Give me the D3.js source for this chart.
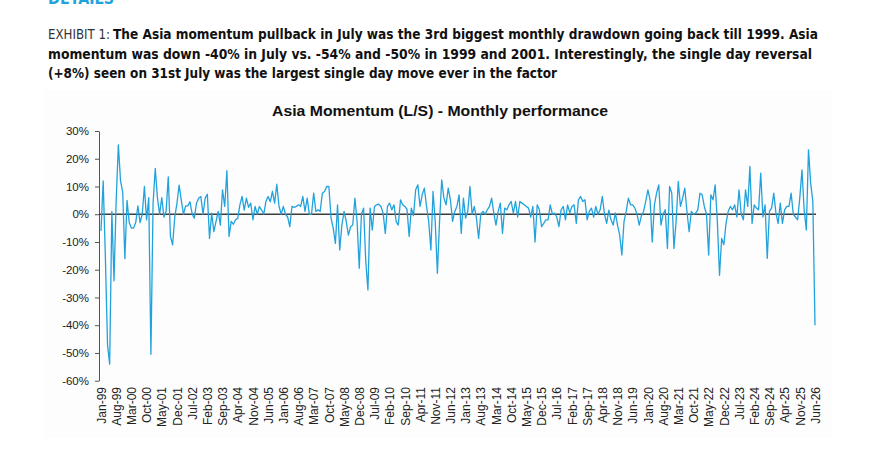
<!DOCTYPE html>
<html>
<head>
<meta charset="utf-8">
<script src="https://cdn.jsdelivr.net/npm/d3@7/dist/d3.min.js"></script>
<style>
  html, body { margin: 0; padding: 0; background: #ffffff; }
  svg { display: block; }
</style>
</head>
<body>
<svg id="chart" width="879" height="449"></svg>
<script>
// ---------- DATA ----------
const headerLabel = "DETAILS";
const exhibitLabel = "EXHIBIT 1:";
const captionLines = [
  "The Asia momentum pullback in July was the 3rd biggest monthly drawdown going back till 1999. Asia",
  "momentum was down -40% in July vs. -54% and -50% in 1999 and 2001. Interestingly, the single day reversal",
  "(+8%) seen on 31st July was the largest single day move ever in the factor"
];
const chartTitle = "Asia Momentum (L/S) - Monthly performance";

const yTicks = [30, 20, 10, 0, -10, -20, -30, -40, -50, -60];

const xTickLabels = ["Jan-99","Aug-99","Mar-00","Oct-00","May-01","Dec-01","Jul-02","Feb-03","Sep-03","Apr-04",
  "Nov-04","Jun-05","Jan-06","Aug-06","Mar-07","Oct-07","May-08","Dec-08","Jul-09","Feb-10","Sep-10","Apr-11",
  "Nov-11","Jun-12","Jan-13","Aug-13","Mar-14","Oct-14","May-15","Dec-15","Jul-16","Feb-17","Sep-17","Apr-18",
  "Nov-18","Jun-19","Jan-20","Aug-20","Mar-21","Oct-21","May-22","Dec-22","Jul-23","Feb-24","Sep-24","Apr-25",
  "Nov-25","Jun-26"];

// monthly categories Jan-99 .. Jun-26
const fmtMonth = d3.timeFormat("%b-%y");
const categories = d3.timeMonth.range(new Date(1999, 0, 1), new Date(2026, 6, 1)).map(fmtMonth);

// monthly performance (%)
const momentum = [
  -6, 12, -15, -47, -54, 1, -24, 5, 25, 12,
  8, -16, 5, -3, -5, -5, -3, 3, -3, 0,
  10, -2, 6, -50.5, 4, 16.5, 6, 0, 6, -1,
  1, 13.5, -8, -11, -1, 4, 10.5, 5, 0, 3,
  3, 4.5, 0, -1.4, 4, 5.8, 6.4, 0, 5.8, 7.2,
  -8.7, 0.4, -6.3, -2.6, 1, -3.9, 8.8, 2.8, 15.7, -8,
  -2.6, -3.6, -2, -1.5, 3.4, 6.4, 1.5, 5.8, 2.5, 4,
  -2, 2.8, 0, 2.8, 1.5, 0, 4.6, 6.4, 4.5, 8.2,
  4, 10.8, 3, 0, 2.8, 0, -1, -4.5, 2.8, 2.5,
  2.8, 3.4, 2.8, 6.4, 1, 5.8, 0, 0, 7.6, 1,
  1.6, 1, 7.6, 8.2, 10, 10, -1.4, -5, -10.5, 3.4,
  -12.9, -3.9, 1, -2.6, -7.5, -4.5, -3.9, 5.8, -2.6, -19.5,
  0, 2.2, -17, -27.3, 2.2, -5.7, 2.8, 3.4, 3.6, 2.8,
  0.4, -6.9, 2.8, 4, 1.6, 3.4, -2.6, -3.9, 5.2, 3.4,
  2.8, 1.8, -8, 2.2, -0.5, 8.8, 10.6, 2.8, 7, 9.4,
  2.8, -2.6, -12.9, 8.2, -2.6, -21.3, -2.6, 12.4, 5.8, 3.4,
  9.4, 5.2, -2.6, 1, 2.8, 7, -6.9, 5.8, -1.4, 1,
  10, 0, 2.8, -1.4, -8.7, 0, 1, 0, 1.6, 2.8,
  5.8, 0.4, -3.9, 1, 4, -6.9, 2.2, 1.6, 3.4, 4.6,
  0.4, 4.6, -1, 4.6, 4, 3.4, 2.8, 2.2, -1, 2.8,
  -10, 3.4, 1.6, -4.5, -3.3, -2, -2, 3.4, 0, 0.4,
  -1, -4.5, 1.6, 2.8, -2, 3.4, 0.5, 2.8, 3.4, -3.3,
  5.2, 6.4, 4.6, 5.2, -2, 1, 2.2, -1, 2.8, 0,
  1.6, 6.4, 0, -3.3, 1.5, -2, -3.9, 0.5, -3.9, -7.5,
  -14.7, -2.6, 1, 5.8, 3.4, 3.4, 2.2, 0, -3.9, -0.6,
  1, 4.6, 8.8, 5.2, -10, 3.4, 7.6, 10.6, -3.9, 0,
  1.6, -12.3, 10, 7.6, -12.3, -2.6, 11.8, 2.8, 5.8, 9.4,
  1, -6.3, 1, 0, 0.4, 1.6, 7.6, 7, 2.8, 0,
  -14.7, 7, 5.2, 10.6, -2.6, -22, -8.7, -11, -3.3, 1,
  2.8, 1.6, 3.4, -1, 8.8, 0, -2, 8.8, 2.8, 17.2,
  -3.3, 3.4, 2.2, 1.6, 14.8, -1, 3.4, -15.9, 1, 2.2,
  7.6, 0.4, -3.3, 4, -3.3, 1.6, 2.8, 2.8, 7.6, 0,
  -1, -2, 6, 16, 1.6, -5.7, 23.2, 11.2, 4.6, -40
];

// ---------- DRAW ----------
const svg = d3.select("#chart");
const blue = "#22a2dc";
const sans = "'Liberation Sans', Arial, Helvetica, sans-serif";
const narrow = "'Liberation Sans Narrow', 'DejaVu Sans Condensed', 'Roboto Condensed', 'Liberation Sans', sans-serif";

// header (cut off at top, as in the source page)
svg.append("text")
  .attr("x", 48).attr("y", 4)
  .attr("font-family", narrow).attr("font-weight", "bold")
  .attr("font-size", 16).attr("fill", blue)
  .attr("textLength", 66).attr("lengthAdjust", "spacingAndGlyphs")
  .text(headerLabel);

// caption
svg.append("text")
  .attr("x", 48).attr("y", 39)
  .attr("font-family", narrow).attr("font-weight", "normal")
  .attr("font-size", 14.5).attr("fill", "#333")
  .attr("textLength", 62).attr("lengthAdjust", "spacingAndGlyphs")
  .text(exhibitLabel);

const capLens = [705, 764, 509];
const capX = [113, 48, 48];
captionLines.forEach((t, i) => {
  svg.append("text")
    .attr("x", capX[i]).attr("y", 39 + i * 19.5)
    .attr("font-family", narrow).attr("font-weight", "bold")
    .attr("font-size", 14.5).attr("fill", "#111")
    .attr("textLength", capLens[i]).attr("lengthAdjust", "spacingAndGlyphs")
    .text(t);
});

// chart panel (very faint)
svg.append("rect")
  .attr("x", 44).attr("y", 90).attr("width", 788).attr("height", 348)
  .attr("fill", "#fdfdfd");

// title
svg.append("text")
  .attr("x", 440).attr("y", 116)
  .attr("text-anchor", "middle")
  .attr("font-family", sans).attr("font-weight", "bold")
  .attr("font-size", 15.5).attr("fill", "#111")
  .attr("textLength", 336).attr("lengthAdjust", "spacingAndGlyphs")
  .text(chartTitle);

// scales
const x = d3.scalePoint().domain(categories).range([101, 815]);
const y = d3.scaleLinear().domain([-60, 30]).range([380.7, 131]);

// y axis
const yAxis = d3.axisLeft(y)
  .tickValues(yTicks)
  .tickFormat(d => d + "%")
  .tickSizeInner(4).tickSizeOuter(0).tickPadding(6);
const gy = svg.append("g").attr("transform", "translate(99,0)").call(yAxis);
gy.select(".domain").attr("stroke", "#555").attr("stroke-width", 1);
gy.selectAll(".tick line").attr("stroke", "#555");
gy.selectAll(".tick text")
  .attr("font-family", sans).attr("font-size", 11.5).attr("fill", "#222");

// x axis labels (no line)
const xAxis = d3.axisBottom(x).tickValues(xTickLabels).tickSize(0).tickPadding(0);
const gx = svg.append("g").attr("transform", "translate(0,383)").call(xAxis);
gx.select(".domain").remove();
gx.selectAll(".tick text")
  .attr("font-family", sans).attr("font-size", 12).attr("fill", "#222")
  .attr("text-anchor", "end")
  .attr("transform", "rotate(-90)")
  .attr("x", -4).attr("y", 0).attr("dy", "0.35em");

// zero line
svg.append("line")
  .attr("x1", 99).attr("x2", 816)
  .attr("y1", y(0)).attr("y2", y(0))
  .attr("stroke", "#3c3c3c").attr("stroke-width", 1.4);

// series line
const line = d3.line()
  .x((d, i) => x(categories[i]))
  .y(d => y(d));
svg.append("path")
  .datum(momentum)
  .attr("fill", "none")
  .attr("stroke", blue)
  .attr("stroke-width", 1.3)
  .attr("stroke-linejoin", "round")
  .attr("d", line);
</script>
</body>
</html>
